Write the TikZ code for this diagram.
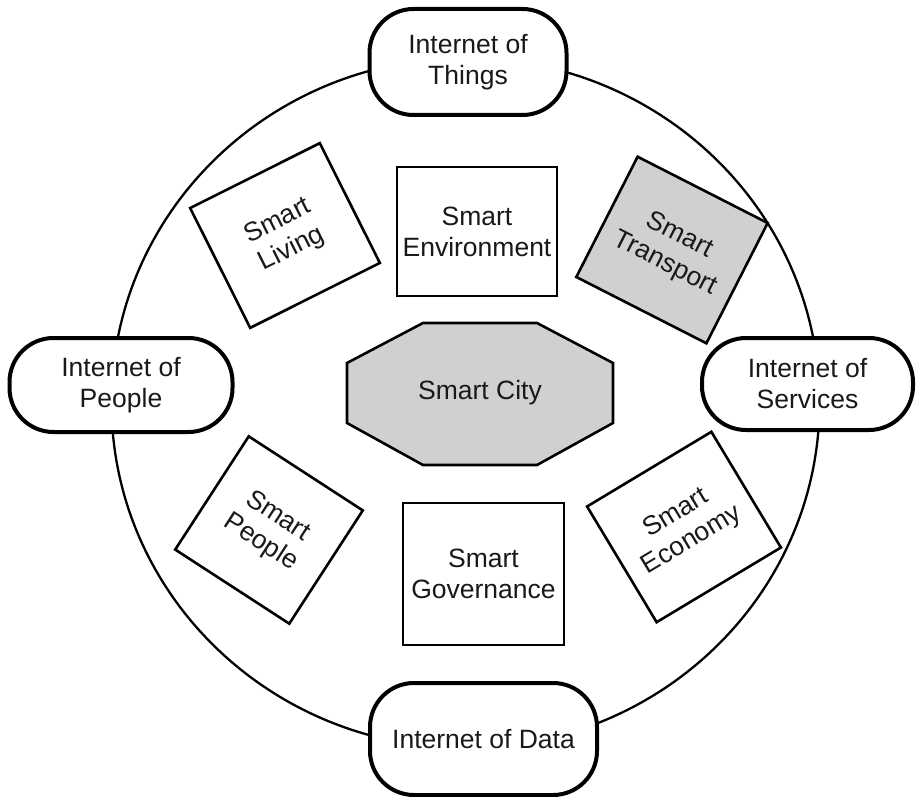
\documentclass[tikz,border=0pt]{standalone}
\usepackage{fontspec}
\setmainfont{Liberation Sans}
\definecolor{boxgray}{RGB}{208,208,208}
\definecolor{ink}{RGB}{25,25,25}
\begin{document}
\begin{tikzpicture}[x=1pt,y=-1pt,
  lbl/.style={font=\fontsize{26.5}{31}\selectfont, align=center, text=ink},
  term/.style={lbl, draw=black, line width=4pt, fill=white, rounded corners=44pt, inner sep=0pt},
  sbox/.style={lbl, draw=black, line width=2.6pt, fill=white, inner sep=0pt},
  gbox/.style={sbox, fill=boxgray},
]
\useasboundingbox (0,0) rectangle (916,797);
% ring
\draw[line width=2.3pt] (465.5,403) ellipse [x radius=354pt, y radius=345pt];
% terminals on the ring
\node[term, minimum width=197pt, minimum height=106pt] (things) at (468,62) {Internet of\\Things};
\node[term, minimum width=223pt, minimum height=94pt] (people) at (121,385) {Internet of\\People};
\node[term, minimum width=211pt, minimum height=92pt] (services) at (807.5,384) {Internet of\\Services};
\node[term, minimum width=227pt, minimum height=112pt] (data) at (483.5,739) {Internet of Data};
% domain boxes
\node[sbox, minimum width=160pt, minimum height=129pt] (env) at (477,231.5) {Smart\\Environment};
\node[sbox, minimum width=161pt, minimum height=142pt] (gov) at (483.5,574) {Smart\\Governance};
\node[sbox, rotate=26.6, minimum width=145pt, minimum height=134pt] (living) at (285,235.5) {Smart\\Living};
\node[gbox, rotate=-27, minimum width=146pt, minimum height=135pt] (transport) at (672,250) {Smart\\Transport};
\node[sbox, rotate=-33, minimum width=136pt, minimum height=135pt] (peop) at (269,530) {Smart\\People};
\node[sbox, rotate=31, minimum width=145pt, minimum height=135pt] (econ) at (684,527) {Smart\\Economy};
% centre octagon
\draw[fill=boxgray, line width=2.6pt] (423,323) -- (537,323) -- (613,363) -- (613,423)
  -- (537,465) -- (423,465) -- (347,423) -- (347,363) -- cycle;
\node[lbl] (city) at (480,393) {Smart City};
\end{tikzpicture}
\end{document}
